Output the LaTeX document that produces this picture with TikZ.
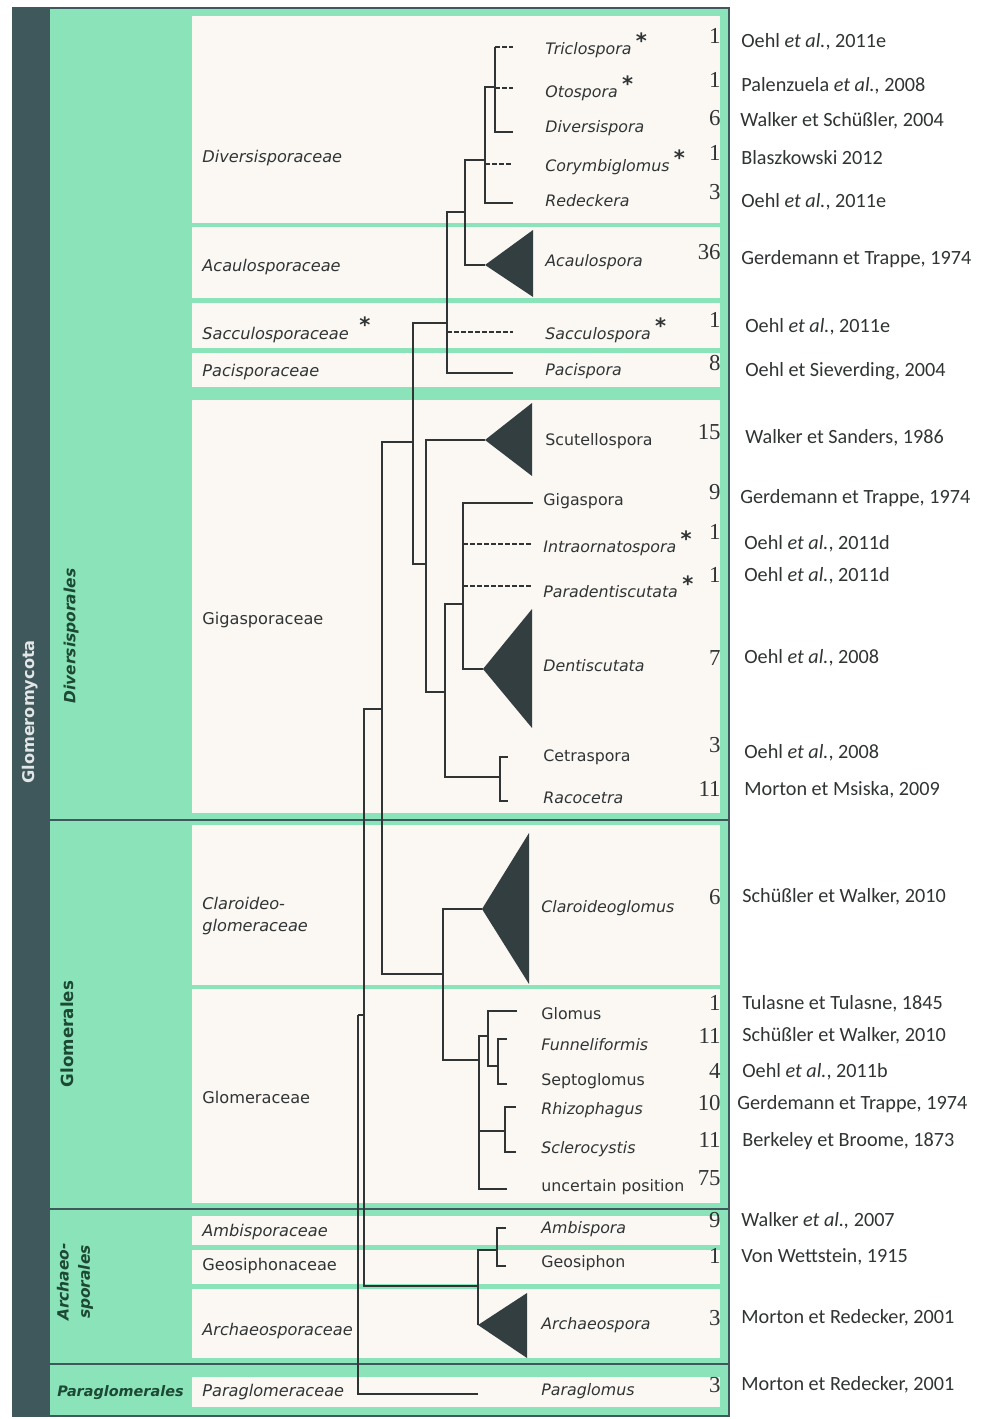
\documentclass[tikz,border=0pt]{standalone}
\usepackage{fontspec}
\setmainfont{Liberation Serif}
\newfontfamily\taxfont{DejaVu Sans}
\newfontfamily\citefont{Carlito}
\usetikzlibrary{calc}
\definecolor{mint}{RGB}{139,228,185}
\definecolor{slate}{RGB}{62,88,92}
\definecolor{paper}{RGB}{251,248,244}
\definecolor{ink}{RGB}{48,52,52}
\definecolor{cladefill}{RGB}{50,62,64}
\definecolor{ordergreen}{RGB}{28,72,52}
\newcommand{\starmark}{\hspace{2.5pt}\raisebox{.7ex}{\upshape\bfseries\fontsize{12}{12}\selectfont *}}

\begin{document}
\begin{tikzpicture}[x=0.02cm,y=-0.02cm]
            \tikzset{branch/.style={line width=1.1pt,draw=ink},
                     uncertain/.style={branch,dash pattern=on 2.6pt off 1.4pt},
                     clade/.style={fill=cladefill},
                     genus/.style={anchor=west,inner sep=0pt,text=ink,font=\taxfont\itshape\fontsize{9}{10}\selectfont},
                     genusup/.style={genus,font=\taxfont\fontsize{9}{10}\selectfont},
                     family/.style={anchor=west,inner sep=0pt,text=ink,align=left,font=\taxfont\itshape\fontsize{9.2}{13}\selectfont},
                     familyup/.style={family,font=\taxfont\fontsize{9.2}{13}\selectfont},
                     count/.style={anchor=east,inner sep=0pt,text=ink,font=\fontsize{13}{13}\selectfont},
                     cite/.style={anchor=west,inner sep=0pt,text=ink,font=\citefont\fontsize{11.5}{12}\selectfont},
                     order/.style={inner sep=0pt,text=ordergreen,font=\taxfont\bfseries\itshape\fontsize{8.8}{12}\selectfont}};
            \useasboundingbox (0,0) rectangle (981,1419);
            \fill[white] (0,0) rectangle (981,1419);

            \fill[mint] (50,8) rectangle (729,1416);
            \fill[slate] (13,8) rectangle (50,1416);
            \fill[paper] (192,16) rectangle (720,223);
            \fill[paper] (192,227) rectangle (720,298);
            \fill[paper] (192,303) rectangle (720,348);
            \fill[paper] (192,353) rectangle (720,387);
            \fill[paper] (192,400) rectangle (720,813);
            \fill[paper] (192,825) rectangle (720,985);
            \fill[paper] (192,989) rectangle (720,1203);
            \fill[paper] (192,1216) rectangle (720,1245);
            \fill[paper] (192,1250) rectangle (720,1284);
            \fill[paper] (192,1289) rectangle (720,1358);
            \fill[paper] (192,1377) rectangle (720,1407);
            \draw[slate,line width=1.1pt] (50,820) -- (729,820);
            \draw[slate,line width=1.1pt] (50,1209) -- (729,1209);
            \draw[slate,line width=1.1pt] (50,1364) -- (729,1364);
            \draw[slate,line width=1.6pt] (13,8) rectangle (729,1416);

            \node[inner sep=0pt,rotate=90,text=white!85!slate,font=\taxfont\bfseries\fontsize{9.2}{10}\selectfont] (phylum) at (30,712) {Glomeromycota};
            \node[order,rotate=90] (ordDiv) at (71,636) {Diversisporales};
            \node[order,rotate=90,font=\taxfont\bfseries\fontsize{9.5}{10}\selectfont] (ordGlo) at (67,1034) {Glomerales};
            \node[order,rotate=90,align=center] (ordArc) at (75,1282) {Archaeo-\\sporales};
            \node[order,anchor=west,font=\taxfont\bfseries\itshape\fontsize{8.2}{10}\selectfont] (ordPar) at (57,1393) {Paraglomerales};

            \node[family] (fDiv) at (202,158) {Diversisporaceae};
            \node[family] (fAca) at (202,267) {Acaulosporaceae};
            \node[family] (fSac) at (202,330) {Sacculosporaceae\hspace{6pt}\raisebox{.8ex}{\upshape\bfseries\fontsize{12}{12}\selectfont *}};
            \node[family] (fPac) at (202,372) {Pacisporaceae};
            \node[familyup] (fGig) at (202,620) {Gigasporaceae};
            \node[family] (fCla) at (202,916) {Claroideo-\\glomeraceae};
            \node[familyup] (fGlo) at (202,1097) {Glomeraceae};
            \node[family] (fAmb) at (202,1232) {Ambisporaceae};
            \node[familyup] (fGeo) at (202,1266) {Geosiphonaceae};
            \node[family] (fArc) at (202,1331) {Archaeosporaceae};
            \node[family] (fPar) at (202,1392) {Paraglomeraceae};

            \coordinate (root) at (358,1015);
            \coordinate (n1) at (364,1015);
            \coordinate (n2) at (382,709);
            \coordinate (n3) at (413,442);
            \coordinate (d1) at (447,323);
            \coordinate (d2) at (465,212);
            \coordinate (d3) at (485,160);
            \coordinate (d4) at (495,87);
            \coordinate (gg1) at (426,564);
            \coordinate (gg2) at (445,692);
            \coordinate (gg3) at (463,604);
            \coordinate (gg4) at (500,777);
            \coordinate (g1) at (443,974);
            \coordinate (g2) at (479,1060);
            \coordinate (g3) at (488,1036);
            \coordinate (g4) at (505,1131);
            \coordinate (g5) at (498,1066);
            \coordinate (a1) at (478,1286);
            \coordinate (a2) at (497,1250);

            \coordinate (tric) at (513,47);
            \coordinate (oto) at (513,88);
            \coordinate (dvs) at (513,132);
            \coordinate (cory) at (513,164);
            \coordinate (red) at (513,203);
            \coordinate (acau) at (485,265);
            \coordinate (sacc) at (513,332);
            \coordinate (paci) at (513,373);
            \coordinate (scut) at (485,440);
            \coordinate (giga) at (533,503);
            \coordinate (intra) at (533,544);
            \coordinate (parad) at (533,586);
            \coordinate (dent) at (483,669);
            \coordinate (cetra) at (508,757);
            \coordinate (raco) at (508,801);
            \coordinate (clar) at (482,909);
            \coordinate (glom) at (517,1011);
            \coordinate (funn) at (507,1039);
            \coordinate (sept) at (507,1084);
            \coordinate (rhiz) at (516,1107);
            \coordinate (scler) at (516,1152);
            \coordinate (unc) at (507,1189);
            \coordinate (ambi) at (506,1228);
            \coordinate (geo) at (506,1266);
            \coordinate (arch) at (478,1325);
            \coordinate (parag) at (478,1394);

            \draw[branch] (root) |- (parag);
            \draw[branch] (root) -- (n1);
            \draw[branch] (n1) |- (n2);
            \draw[branch] (n1) |- (a1);
            \draw[branch] (n2) |- (n3);
            \draw[branch] (n2) |- (g1);
            \draw[branch] (n3) |- (d1);
            \draw[branch] (n3) |- (gg1);

            \draw[branch] (d1) |- (d2);
            \draw[branch] (d1) |- (paci);
            \draw[uncertain] (d1 |- sacc) -- (sacc);
            \draw[branch] (d2) |- (d3);
            \draw[branch] (d2) |- (acau);
            \draw[branch] (d3) |- (d4);
            \draw[branch] (d3) |- (red);
            \draw[uncertain] (d3 |- cory) -- (cory);
            \draw[branch] (d4) |- (dvs);
            \draw[branch] (d4) -- (d4 |- tric);
            \draw[uncertain] (d4 |- tric) -- (tric);
            \draw[uncertain] (d4 |- oto) -- (oto);

            \draw[branch] (gg1) |- (scut);
            \draw[branch] (gg1) |- (gg2);
            \draw[branch] (gg2) |- (gg3);
            \draw[branch] (gg2) |- (gg4);
            \draw[branch] (gg3) |- (giga);
            \draw[branch] (gg3) |- (dent);
            \draw[uncertain] (gg3 |- intra) -- (intra);
            \draw[uncertain] (gg3 |- parad) -- (parad);
            \draw[branch] (gg4) |- (cetra);
            \draw[branch] (gg4) |- (raco);

            \draw[branch] (g1) |- (clar);
            \draw[branch] (g1) |- (g2);
            \draw[branch] (g2) |- (g3);
            \draw[branch] (g2) |- (g4);
            \draw[branch] (g2) |- (unc);
            \draw[branch] (g3) |- (glom);
            \draw[branch] (g3) |- (g5);
            \draw[branch] (g5) |- (funn);
            \draw[branch] (g5) |- (sept);
            \draw[branch] (g4) |- (rhiz);
            \draw[branch] (g4) |- (scler);

            \draw[branch] (a1) |- (a2);
            \draw[branch] (a1) |- (arch);
            \draw[branch] (a2) |- (ambi);
            \draw[branch] (a2) |- (geo);

            \fill[clade] (acau) -- ++(48,-35) -- ++(0,67) -- cycle;
            \fill[clade] (scut) -- ++(47,-37) -- ++(0,73) -- cycle;
            \fill[clade] (dent) -- ++(49,-60) -- ++(0,119) -- cycle;
            \fill[clade] (clar) -- ++(47,-76) -- ++(0,151) -- cycle;
            \fill[clade] (arch) -- ++(49,-32) -- ++(0,65) -- cycle;

            \node[genus] (tric_l) at (545,45) {Triclospora\starmark};
            \node[genus] (oto_l) at (545,88) {Otospora\starmark};
            \node[genus] (dvs_l) at (545,128) {Diversispora};
            \node[genus] (cory_l) at (545,162) {Corymbiglomus\starmark};
            \node[genus] (red_l) at (545,201) {Redeckera};
            \node[genus] (acau_l) at (545,262) {Acaulospora};
            \node[genus] (sacc_l) at (545,330) {Sacculospora\starmark};
            \node[genus] (paci_l) at (545,371) {Pacispora};
            \node[genusup] (scut_l) at (545,441) {Scutellospora};
            \node[genusup] (giga_l) at (543,501) {Gigaspora};
            \node[genus] (intra_l) at (543,543) {Intraornatospora\starmark};
            \node[genus] (parad_l) at (543,587) {Paradentiscutata\starmark};
            \node[genus] (dent_l) at (543,666) {Dentiscutata};
            \node[genusup] (cetra_l) at (543,757) {Cetraspora};
            \node[genus] (raco_l) at (543,798) {Racocetra};
            \node[genus] (clar_l) at (541,908) {Claroideoglomus};
            \node[genusup] (glom_l) at (541,1014) {Glomus};
            \node[genus] (funn_l) at (541,1045) {Funneliformis};
            \node[genusup] (sept_l) at (541,1081) {Septoglomus};
            \node[genus] (rhiz_l) at (541,1110) {Rhizophagus};
            \node[genus] (scler_l) at (541,1149) {Sclerocystis};
            \node[genusup] (unc_l) at (541,1187) {uncertain position};
            \node[genus] (ambi_l) at (541,1229) {Ambispora};
            \node[genusup] (geo_l) at (541,1263) {Geosiphon};
            \node[genus] (arch_l) at (541,1325) {Archaeospora};
            \node[genus] (parag_l) at (541,1391) {Paraglomus};

            \node[count] (tric_n) at (721,36) {1};
            \node[count] (oto_n) at (721,80) {1};
            \node[count] (dvs_n) at (721,118) {6};
            \node[count] (cory_n) at (721,153) {1};
            \node[count] (red_n) at (721,192) {3};
            \node[count] (acau_n) at (721,252) {36};
            \node[count] (sacc_n) at (721,320) {1};
            \node[count] (paci_n) at (721,363) {8};
            \node[count] (scut_n) at (721,432) {15};
            \node[count] (giga_n) at (721,492) {9};
            \node[count] (intra_n) at (721,532) {1};
            \node[count] (parad_n) at (721,575) {1};
            \node[count] (dent_n) at (721,658) {7};
            \node[count] (cetra_n) at (721,745) {3};
            \node[count] (raco_n) at (721,789) {11};
            \node[count] (clar_n) at (721,897) {6};
            \node[count] (glom_n) at (721,1003) {1};
            \node[count] (funn_n) at (721,1036) {11};
            \node[count] (sept_n) at (721,1071) {4};
            \node[count] (rhiz_n) at (721,1103) {10};
            \node[count] (scler_n) at (721,1140) {11};
            \node[count] (unc_n) at (721,1178) {75};
            \node[count] (ambi_n) at (721,1220) {9};
            \node[count] (geo_n) at (721,1256) {1};
            \node[count] (arch_n) at (721,1318) {3};
            \node[count] (parag_n) at (721,1385) {3};

            \node[cite] (tric_c) at (741,42) {Oehl \textit{et al.}, 2011e};
            \node[cite] (oto_c) at (741,86) {Palenzuela \textit{et al.,} 2008};
            \node[cite] (dvs_c) at (740,121) {Walker et Schüßler, 2004};
            \node[cite] (cory_c) at (741,158) {Blaszkowski 2012};
            \node[cite] (red_c) at (741,202) {Oehl \textit{et al.}, 2011e};
            \node[cite] (acau_c) at (741,259) {Gerdemann et Trappe, 1974};
            \node[cite] (sacc_c) at (745,327) {Oehl \textit{et al.}, 2011e};
            \node[cite] (paci_c) at (745,371) {Oehl et Sieverding, 2004};
            \node[cite] (scut_c) at (745,438) {Walker et Sanders, 1986};
            \node[cite] (giga_c) at (740,498) {Gerdemann et Trappe, 1974};
            \node[cite] (intra_c) at (744,544) {Oehl \textit{et al.}, 2011d};
            \node[cite] (parad_c) at (744,576) {Oehl \textit{et al.}, 2011d};
            \node[cite] (dent_c) at (744,658) {Oehl \textit{et al.}, 2008};
            \node[cite] (cetra_c) at (744,753) {Oehl \textit{et al.}, 2008};
            \node[cite] (raco_c) at (744,790) {Morton et Msiska, 2009};
            \node[cite] (clar_c) at (742,897) {Schüßler et Walker, 2010};
            \node[cite] (glom_c) at (742,1004) {Tulasne et Tulasne, 1845};
            \node[cite] (funn_c) at (742,1036) {Schüßler et Walker, 2010};
            \node[cite] (sept_c) at (742,1072) {Oehl \textit{et al.}, 2011b};
            \node[cite] (rhiz_c) at (737,1104) {Gerdemann et Trappe, 1974};
            \node[cite] (scler_c) at (742,1141) {Berkeley et Broome, 1873};
            \node[cite] (ambi_c) at (741,1221) {Walker \textit{et al.,} 2007};
            \node[cite] (geo_c) at (741,1257) {Von Wettstein, 1915};
            \node[cite] (arch_c) at (741,1318) {Morton et Redecker, 2001};
            \node[cite] (parag_c) at (741,1385) {Morton et Redecker, 2001};
          \end{tikzpicture}
\end{document}
